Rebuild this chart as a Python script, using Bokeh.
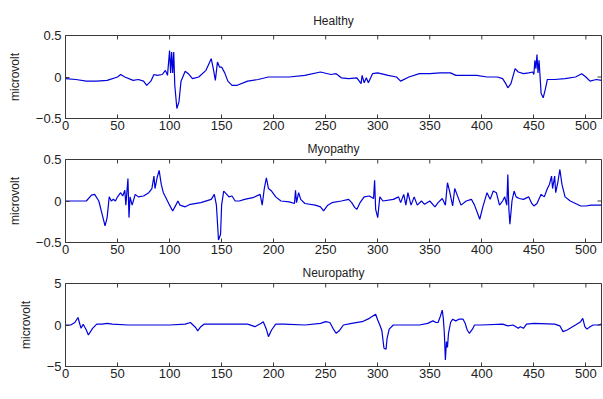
import math
from bokeh.plotting import figure
from bokeh.layouts import column
from bokeh.models import FixedTicker, Range1d
from bokeh.embed import file_html
from bokeh.resources import INLINE

# ---------------- data (polyline vertices) ----------------
healthy_x = [0, 10, 20, 30, 40, 50, 53, 57, 65, 70, 75, 78, 82, 85, 88, 93, 96, 98,
             100, 101, 102, 103, 104, 105, 107, 109, 111, 115, 118, 122, 128, 135, 140,
             142, 144, 146, 148, 150, 153, 156, 160, 165, 175, 185, 195, 200, 215, 230,
             245, 255, 260, 265, 272, 280, 284, 285, 287, 289, 291, 295, 300, 310, 318,
             322, 330, 340, 350, 360, 370, 375, 385, 395, 405, 415, 420, 423, 425, 428,
             432, 435, 440, 445, 449, 450, 451, 452, 453, 454, 455, 456, 457, 459, 461,
             463, 470, 480, 490, 496, 500, 504, 510, 515]
healthy_y = [-0.02, -0.03, -0.05, -0.05, -0.04, 0.0, 0.03, 0.0, -0.04, -0.03, -0.05, -0.1,
             -0.05, 0.03, 0.02, 0.03, 0.08, 0.02, 0.32, 0.05, 0.3, 0.05, 0.3, -0.1, -0.38,
             -0.3, -0.05, 0.07, 0.04, -0.02, 0.0, 0.08, 0.22, 0.1, -0.04, 0.18, 0.12, 0.12,
             0.05, -0.05, -0.1, -0.1, -0.05, -0.03, 0.0, 0.0, 0.0, 0.02, 0.06, 0.03, 0.04,
             -0.01, -0.02, -0.01, -0.08, 0.02, -0.07, -0.01, -0.07, 0.04, 0.05, 0.02, 0.0,
             -0.05, 0.0, 0.04, 0.04, 0.05, 0.05, 0.02, 0.02, 0.02, 0.0, 0.0, -0.02, -0.08,
             -0.13, -0.08, 0.1, 0.06, 0.04, 0.05, 0.06, 0.03, 0.2, 0.1, 0.27, 0.05, 0.2, 0.0,
             -0.2, -0.25, -0.15, -0.03, -0.03, -0.02, 0.0, 0.04, 0.0, -0.05, -0.03, -0.04]

myo_x = [0, 10, 20, 25, 28, 32, 35, 38, 40, 42, 44, 46, 48, 50, 53, 55, 57, 58, 60, 61,
         62, 64, 67, 70, 75, 80, 83, 85, 86, 88, 90, 92, 94, 96, 100, 103, 106, 108, 110,
         115, 120, 130, 140, 143, 145, 147, 149, 150, 152, 155, 157, 160, 163, 167, 172,
         180, 187, 189, 191, 193, 195, 198, 202, 207, 215, 220, 221, 222, 224, 226, 230,
         240, 245, 248, 252, 256, 265, 272, 275, 278, 280, 283, 287, 292, 296, 297, 298,
         300, 302, 305, 315, 320, 322, 325, 327, 329, 332, 335, 338, 342, 345, 350, 355,
         358, 362, 365, 367, 369, 372, 374, 377, 380, 385, 390, 393, 396, 398, 401, 405,
         408, 411, 414, 417, 420, 422, 424, 425, 426, 427, 429, 431, 433, 436, 440, 445,
         448, 450, 453, 457, 460, 463, 465, 467, 468, 470, 471, 473, 475, 477, 480, 485,
         490, 495, 500, 505, 515]
myo_y = [0.0, 0.0, 0.0, 0.07, 0.08, 0.0, -0.15, -0.3, -0.2, 0.05, 0.0, 0.02, 0.0, 0.05,
         0.1, 0.06, 0.13, -0.05, 0.27, -0.2, 0.05, -0.05, 0.08, 0.05, 0.06, 0.1, 0.15, 0.3,
         0.15, 0.28, 0.37, 0.2, 0.1, 0.05, -0.05, -0.12, -0.05, 0.0, -0.05, -0.07, -0.04,
         -0.02, 0.02, 0.08, -0.05, -0.47, -0.4, -0.05, 0.12, 0.08, 0.05, 0.06, 0.0, 0.0,
         0.02, 0.04, 0.08, -0.05, 0.15, 0.28, 0.15, 0.12, 0.05, 0.0, -0.01, -0.03, 0.13,
         -0.02, 0.1, 0.02, -0.03, -0.05, -0.07, -0.12, -0.05, -0.02, 0.0, 0.02, -0.02,
         -0.08, -0.1, -0.02, 0.05, 0.06, 0.03, 0.25, -0.1, -0.2, 0.05, 0.0, 0.02, 0.05,
         -0.02, 0.08, -0.05, 0.1, -0.05, 0.05, -0.05, 0.0, -0.04, 0.0, -0.07, -0.02, 0.03,
         -0.05, 0.22, 0.12, -0.06, 0.15, 0.05, -0.05, 0.0, 0.02, -0.05, -0.15, -0.22,
         -0.07, 0.1, 0.02, 0.12, 0.1, -0.05, 0.0, 0.05, -0.05, 0.32, -0.1, -0.28, 0.0,
         0.12, 0.05, 0.03, 0.02, 0.05, -0.03, -0.06, -0.03, 0.08, 0.05, 0.15, 0.2, 0.3,
         0.15, 0.3, 0.1, 0.22, 0.38, 0.2, 0.05, 0.0, -0.03, -0.06, -0.06, -0.05, -0.05]

neuro_x = [0, 5, 9, 12, 14, 15, 17, 20, 22, 26, 30, 35, 40, 45, 60, 100, 115, 120, 125,
           127, 130, 133, 175, 182, 188, 190, 193, 195, 198, 202, 210, 230, 245, 250, 254,
           257, 260, 263, 267, 275, 285, 292, 298, 300, 302, 304, 306, 308, 309, 311, 315,
           325, 340, 348, 353, 356, 358, 360, 362, 363, 364, 365, 366, 367, 368, 370, 372,
           375, 378, 382, 384, 386, 388, 391, 393, 400, 420, 425, 430, 435, 437, 440, 443,
           450, 470, 475, 478, 482, 486, 490, 495, 497, 499, 501, 504, 507, 512, 515]
neuro_y = [0.0, 0.0, 0.3, 0.9, 0.0, -0.4, 0.1, -0.6, -1.2, -0.4, 0.1, 0.1, 0.2, 0.1, 0.0,
           0.0, 0.1, 0.3, -0.3, -0.7, -0.2, 0.1, 0.1, -0.2, 0.2, 0.4, -0.5, -1.4, -0.6,
           0.1, 0.1, 0.0, 0.2, 0.4, 0.3, -0.4, -1.0, -0.7, 0.0, 0.2, 0.4, 0.8, 1.3, 0.6,
           0.0, -0.7, -2.8, -2.9, -1.6, -0.5, 0.0, 0.0, 0.0, 0.2, 0.5, 0.3, 0.3, 1.0, 1.8,
           0.8, -1.0, -4.2, -2.0, -2.7, -1.0, 0.3, 0.7, 0.5, 0.7, 0.7, 0.2, -0.6, -1.0,
           -0.5, 0.0, 0.0, 0.1, -0.1, 0.0, -0.4, -0.2, -0.4, 0.1, 0.2, 0.1, -0.1, -0.8,
           -0.6, -0.3, 0.0, 0.4, 0.8, -0.2, -0.5, -0.2, 0.0, 0.0, 0.1]

titles = ["Healthy", "Myopathy", "Neuropathy"]
y_label = "microvolt"
x_ticks = [0, 50, 100, 150, 200, 250, 300, 350, 400, 450, 500]
y_ticks_small = [-0.5, 0, 0.5]
y_ticks_big = [-5, 0, 5]
x_max = 515

FONT = "Liberation Sans"
AX = "#3a3a3a"
TXT = "#222222"


def panel(title, xs, ys, ylim, yticks, h, top, bottom, title_gap):
    p = figure(width=603, height=h, x_range=Range1d(0, x_max), y_range=Range1d(*ylim),
               output_backend="svg", toolbar_location=None,
               min_border_left=65, min_border_right=2,
               min_border_top=top, min_border_bottom=bottom)
    p.title.text = title
    p.title.align = "center"
    p.title.text_font = FONT
    p.title.text_font_style = "normal"
    p.title.text_font_size = "12px"
    p.title.text_color = TXT
    p.title.standoff = title_gap
    p.grid.visible = False
    p.outline_line_color = AX
    p.outline_line_width = 1
    p.line(xs, ys, line_color="#0000dd", line_width=1.2)

    p.xaxis.ticker = FixedTicker(ticks=x_ticks)
    p.yaxis.ticker = FixedTicker(ticks=yticks)
    for ax in (p.xaxis[0], p.yaxis[0]):
        ax.major_tick_in = 4
        ax.major_tick_out = 0
        ax.minor_tick_line_color = None
        ax.axis_line_color = AX
        ax.major_tick_line_color = AX
        ax.major_label_text_font = FONT
        ax.major_label_text_font_size = "13px"
        ax.major_label_text_color = TXT
    p.xaxis.major_label_standoff = 2
    p.yaxis.major_label_standoff = 4
    p.yaxis.axis_label = y_label
    p.yaxis.axis_label_text_font = FONT
    p.yaxis.axis_label_text_font_style = "normal"
    p.yaxis.axis_label_text_font_size = "12px"
    p.yaxis.axis_label_text_color = TXT
    p.yaxis.axis_label_standoff = 11

    # mirrored ticks on the top and right edges (clipped to the frame)
    p.scatter(x=x_ticks, y=[ylim[1]] * len(x_ticks), marker="dash", size=8,
              angle=math.pi / 2, line_color=AX, line_width=1)
    p.scatter(x=[x_max] * len(yticks), y=yticks, marker="dash", size=8,
              line_color=AX, line_width=1)
    return p


p1 = panel(titles[0], healthy_x, healthy_y, (-0.5, 0.5), y_ticks_small, 135, 35, 17, 15)
p2 = panel(titles[1], myo_x, myo_y, (-0.5, 0.5), y_ticks_small, 124, 24, 17, 8)
p3 = panel(titles[2], neuro_x, neuro_y, (-5, 5), y_ticks_big, 140, 24, 33, 8)

layout = column(p1, p2, p3, spacing=0)
open("out.html", "w").write(file_html(layout, INLINE))
